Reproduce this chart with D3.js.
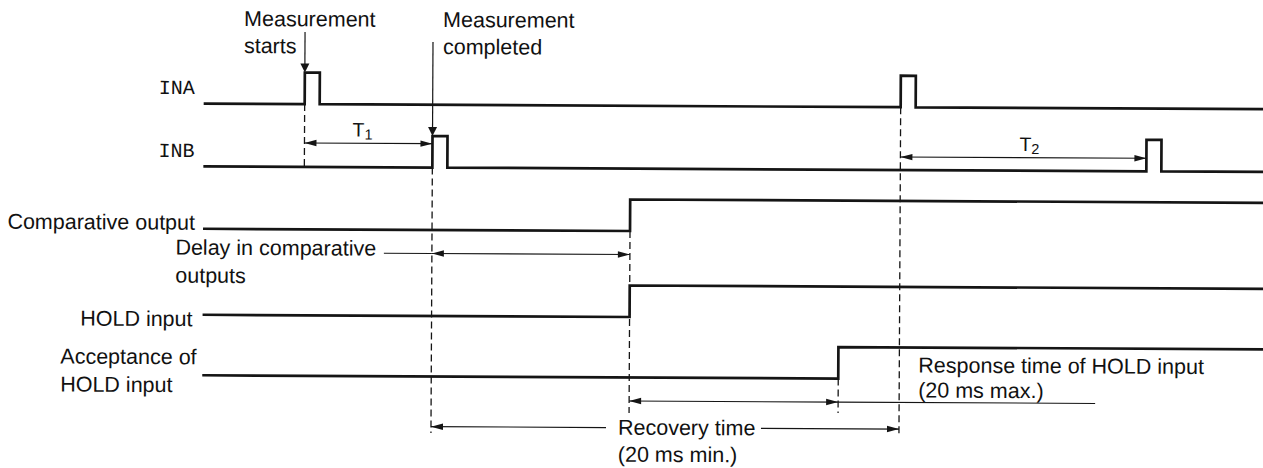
<!DOCTYPE html>
<html><head><meta charset="utf-8">
<script src="https://cdn.jsdelivr.net/npm/d3@7"></script>
<style>
html,body{margin:0;padding:0;background:#fff;}
svg{display:block;}
text{font-family:"Liberation Sans",Arial,Helvetica,sans-serif;font-size:21.5px;fill:#111;}
text.mono{font-family:"Liberation Mono","Courier New",monospace;font-size:20px;}
</style></head><body>
<svg id="chart" width="1263" height="468"></svg>
<script>
// ---------------- data (time in arbitrary diagram units) ----------------
const signals = ["INA", "INB", "Comparative output", "HOLD input", "Acceptance of HOLD input"];
const signalLabels = [["INA"], ["INB"], ["Comparative output"], ["HOLD input"], ["Acceptance of", "HOLD input"]];
const inaEdges  = [[0, 0], [101, 1], [116, 0], [697, 1], [712, 0], [1075, 0]];
const inbEdges  = [[0, 0], [229, 1], [244, 0], [943, 1], [958, 0], [1075, 0]];
const compEdges = [[0, 0], [427, 1], [1075, 1]];
const holdEdges = [[0, 0], [427, 1], [1075, 1]];
const accEdges  = [[0, 0], [636, 1], [1075, 1]];
const guideTimes = [101, 229, 427, 636, 697];
const spanNames = ["T1", "T2", "Delay", "Response", "Recovery"];
const spanFrom  = [101, 697, 229, 427, 229];
const spanTo    = [229, 943, 427, 636, 697];
const calloutTimes = [101, 229];
const calloutText = [["Measurement", "starts"], ["Measurement", "completed"]];
const delayText = ["Delay in comparative", "outputs"];
const responseText = ["Response time of HOLD input", "(20 ms max.)"];
const recoveryText = ["Recovery time", "(20 ms min.)"];

// ---------------- layout ----------------
const svg = d3.select("#chart");
const g = svg.append("g").attr("transform", "rotate(0.3,630,234)");
const x = d3.scaleLinear().domain([0, 1060]).range([203, 1263]);
const lane = d3.scaleOrdinal(signals, [105.8, 168.6, 231, 317, 377.5]);
const lvl = d3.scaleLinear().domain([0, 1]).range([0, -31.5]);
const edgesBySignal = [inaEdges, inbEdges, compEdges, holdEdges, accEdges];
const ink = "#151515";

// guides (dashed)
const guideY = {101: [105.8, 168.6], 229: [168.6, 434], 427: [231, 413], 636: [377.5, 412], 697: [105.8, 435.3]};
g.selectAll("line.guide").data(guideTimes).join("line").attr("class", "guide")
  .attr("x1", d => x(d)).attr("x2", d => x(d))
  .attr("y1", d => guideY[d][0]).attr("y2", d => guideY[d][1])
  .attr("stroke", ink).attr("stroke-width", 1.3).attr("stroke-dasharray", "7,4");

// signal waveforms
const line = d3.line().curve(d3.curveStepAfter);
signals.forEach((s, i) => {
  const pts = edgesBySignal[i].map(([t, v]) => [x(t), lane(s) + lvl(v)]);
  g.append("path").attr("d", line(pts)).attr("fill", "none")
    .attr("stroke", ink).attr("stroke-width", 2.7).attr("stroke-linejoin", "miter");
});

// signal labels
const labelPos = [
  {x: 158, y: [96.4], anchor: "start", mono: true},
  {x: 158, y: [159.4], anchor: "start", mono: true},
  {x: 195, y: [232], anchor: "end"},
  {x: 193, y: [328.5], anchor: "end"},
  {x: 61, y: [366.5, 394.5], anchor: "start"}
];
signalLabels.forEach((lines, i) => {
  const p = labelPos[i];
  lines.forEach((t, j) => {
    g.append("text").attr("class", p.mono ? "mono" : null)
      .attr("x", p.x).attr("y", p.y[j]).attr("text-anchor", p.anchor).text(t);
  });
});

// arrowhead helper: tip at (tx,ty), pointing in direction dx,dy (unit)
function head(tx, ty, dx, dy, len, hw) {
  const bx = tx - dx * len, by = ty - dy * len;
  const px = -dy * hw, py = dx * hw;
  g.append("path").attr("d", `M${tx},${ty}L${bx + px},${by + py}L${bx - px},${by - py}Z`).attr("fill", ink);
}
function hline(x1, x2, y) {
  g.append("line").attr("x1", x1).attr("x2", x2).attr("y1", y).attr("y2", y)
    .attr("stroke", ink).attr("stroke-width", 1.1);
}

// dimension spans
const spanY = {T1: 144.7, T2: 155.6, Delay: 254.5, Response: 401, Recovery: 427.7};
spanNames.forEach((n, i) => {
  const a = x(spanFrom[i]), b = x(spanTo[i]), y = spanY[n];
  if (n === "Recovery") {
    hline(a, 607, y); hline(762, b, y);
  } else {
    hline(a, b, y);
  }
  head(a, y, -1, 0, 12, 3.2);
  head(b, y, 1, 0, 12, 3.2);
});
// leaders
hline(384, x(spanFrom[2]), spanY.Delay);
hline(x(spanTo[3]), 1096, spanY.Response);

// T labels with subscripts
function tlabel(xp, yp, main, sub) {
  const t = g.append("text").attr("x", xp).attr("y", yp).style("font-size", "19.5px");
  t.append("tspan").text(main);
  t.append("tspan").attr("dy", 3).style("font-size", "14.5px").text(sub);
}
tlabel(352, 138, "T", "1");
tlabel(1019, 149, "T", "2");

// annotation texts
delayText.forEach((t, j) => g.append("text").attr("x", 175.5).attr("y", [257, 285][j]).text(t));
responseText.forEach((t, j) => g.append("text").attr("x", 919).attr("y", [371, 396][j]).text(t));
recoveryText.forEach((t, j) => g.append("text").attr("x", 619).attr("y", [434.7, 461.7][j]).text(t));

// callouts
const calloutX = [243, 442];
const calloutTop = [33.7, 43];
const calloutTip = [lane("INA") + lvl(1), lane("INB") + lvl(1)];
calloutTimes.forEach((t, i) => {
  const xp = x(t);
  g.append("line").attr("x1", xp).attr("x2", xp).attr("y1", calloutTop[i]).attr("y2", calloutTip[i] - 6)
    .attr("stroke", ink).attr("stroke-width", 1.2);
  head(xp, calloutTip[i], 0, 1, 9, 4.5);
  calloutText[i].forEach((s, j) => g.append("text").attr("x", calloutX[i]).attr("y", [28, 55][j]).text(s));
});
</script>
</body></html>
